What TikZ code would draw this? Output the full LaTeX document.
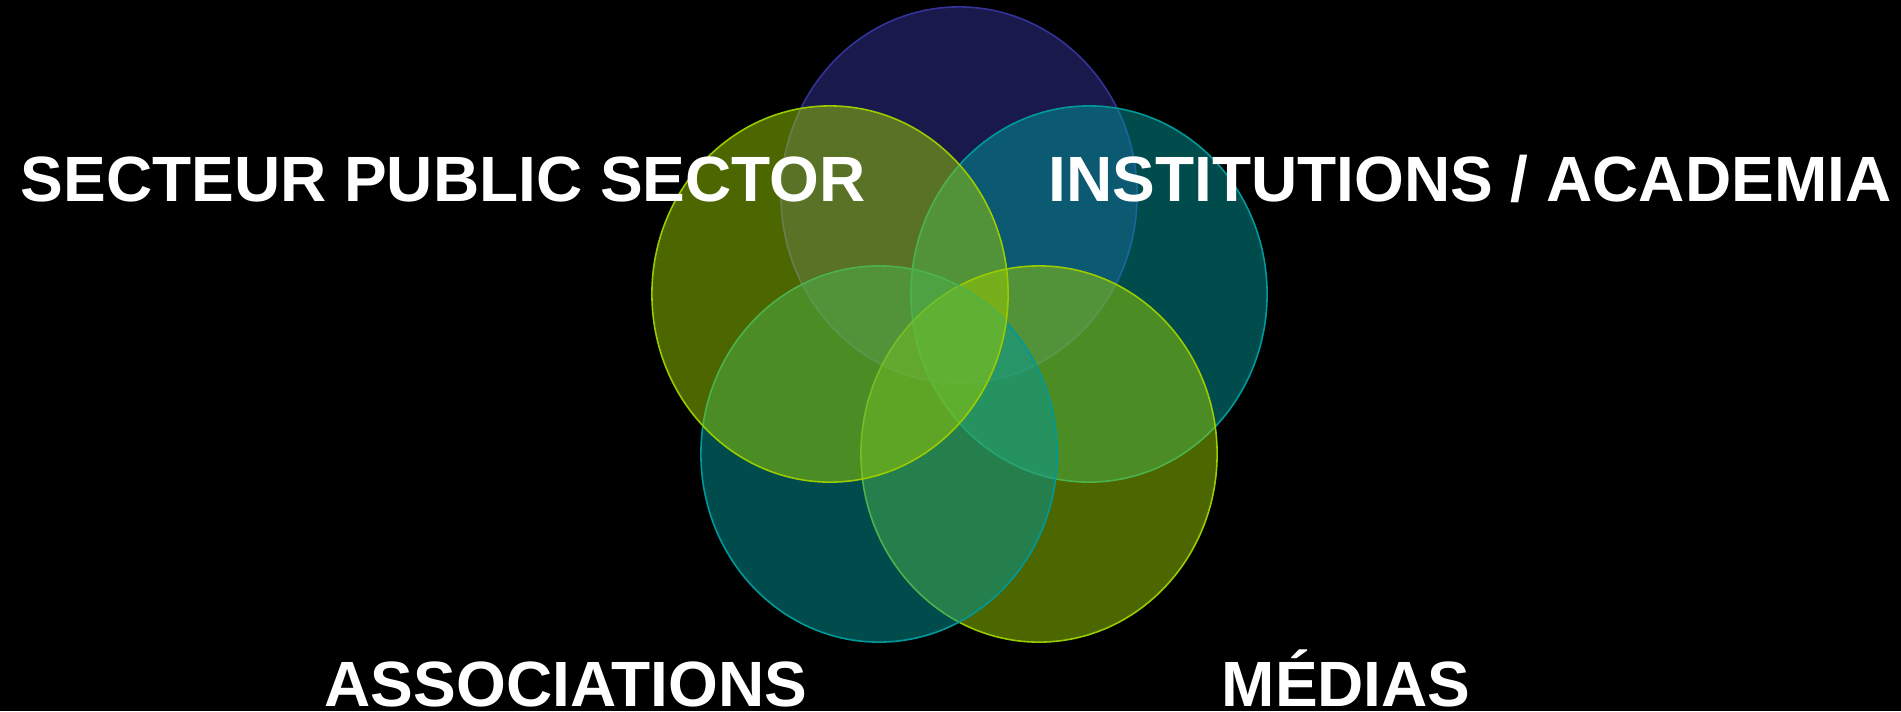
\documentclass[tikz,border=0pt]{standalone}
\usepackage{fontspec}
\setmainfont{Liberation Sans}
\usepackage{tikz}
\usetikzlibrary{shapes.geometric}
\definecolor{PartnerNavy}{RGB}{51,51,153}
\definecolor{PartnerOlive}{RGB}{153,204,0}
\definecolor{PartnerTeal}{RGB}{0,153,153}
\tikzset{
    bubble/.style={
        ellipse, draw, line width=0.45pt, minimum width=3.56cm, minimum height=3.76cm, inner sep=0pt, fill opacity=0.5
    },
    sectorlabel/.style={
        anchor=base west, text=white, inner sep=0pt, font=\fontsize{18.2pt}{22pt}\selectfont\bfseries
    }
}
\begin{document}
\begin{tikzpicture}[x=0.01cm, y=-0.01cm]
        \fill[black] (0,0) rectangle (1901,711);
        \useasboundingbox (0,0) rectangle (1901,711);
        % circles, clockwise from the top
        \node[bubble, draw=PartnerNavy, fill=PartnerNavy] (core) at (959,195) {};
        \node[bubble, draw=PartnerTeal, fill=PartnerTeal] (academia) at (1089,294) {};
        \node[bubble, draw=PartnerOlive, fill=PartnerOlive] (media) at (1039,454) {};
        \node[bubble, draw=PartnerTeal, fill=PartnerTeal] (assoc) at (879,454) {};
        \node[bubble, draw=PartnerOlive, fill=PartnerOlive] (public) at (830,294) {};
        
        \node[sectorlabel] (publiclabel) at (20,201) {SECTEUR PUBLIC SECTOR};
        \node[sectorlabel] (academialabel) at (1048,201) {INSTITUTIONS / ACADEMIA};
        \node[sectorlabel] (assoclabel) at (324,706) {ASSOCIATIONS};
        \node[sectorlabel] (medialabel) at (1221,706) {MÉDIAS};
    \end{tikzpicture}
\end{document}
